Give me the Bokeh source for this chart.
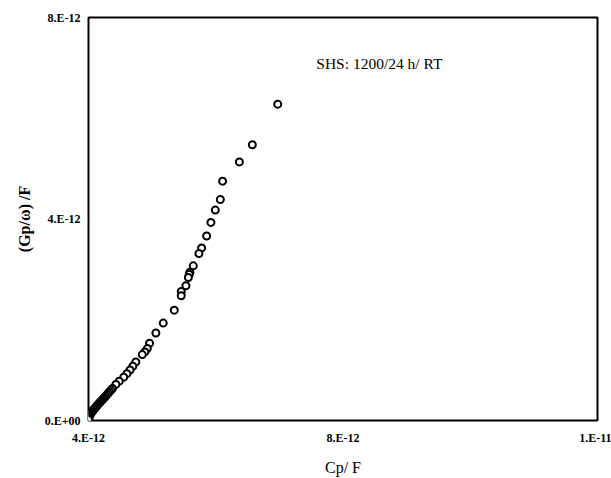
from bokeh.plotting import figure
from bokeh.models import FixedTicker, CustomJSTickFormatter, Label, Range1d, ColumnDataSource
from bokeh.embed import file_html
from bokeh.resources import INLINE
import numpy as np

# Data in units of 1e-12 F
cp_e12 = [6.974, 6.575, 6.371, 6.108, 6.072, 5.993, 5.924, 5.857, 5.778, 5.735,
          5.647, 5.594, 5.584, 5.569, 5.531, 5.458, 5.458, 5.348, 5.175, 5.059,
          4.960, 4.924, 4.886, 4.845, 4.744, 4.697, 4.653, 4.603, 4.554, 4.483,
          4.430, 4.378, 4.354, 4.330, 4.312, 4.291, 4.272, 4.252, 4.233, 4.214,
          4.197, 4.179, 4.162, 4.146, 4.131, 4.116, 4.102, 4.090, 4.077, 4.065,
          4.053, 4.042, 4.033, 4.024, 4.016, 4.009, 4.005, 4.002, 4.000]
gp_e12 = [6.280, 5.475, 5.133, 4.751, 4.387, 4.177, 3.932, 3.663, 3.426, 3.313,
          3.070, 2.943, 2.903, 2.838, 2.674, 2.561, 2.476, 2.191, 1.934, 1.737,
          1.533, 1.428, 1.361, 1.309, 1.163, 1.078, 1.003, 0.930, 0.860, 0.781,
          0.716, 0.637, 0.603, 0.574, 0.544, 0.514, 0.485, 0.459, 0.431, 0.405,
          0.382, 0.358, 0.334, 0.312, 0.291, 0.269, 0.247, 0.227, 0.208, 0.188,
          0.168, 0.148, 0.129, 0.109, 0.089, 0.069, 0.049, 0.030, 0.014]

x_ticks = [4e-12, 8e-12, 1.2e-11]
y_ticks = [0.0, 4e-12, 8e-12]
annotation = "SHS: 1200/24 h/ RT"
x_label = "Cp/ F"
y_label = "(Gp/ω) /F"

src = ColumnDataSource(dict(x=np.array(cp_e12) * 1e-12, y=np.array(gp_e12) * 1e-12))

p = figure(width=611, height=478, output_backend="svg", toolbar_location=None,
           x_range=Range1d(4e-12, 1.2e-11), y_range=Range1d(0, 8e-12),
           min_border_left=88, min_border_right=14, min_border_top=17, min_border_bottom=56)

p.scatter("x", "y", source=src, marker="circle", size=7, fill_color="white",
          line_color="black", line_width=2)

fmt = CustomJSTickFormatter(code="""
const s = tick.toExponential(0);
const parts = s.split('e');
const ev = parseInt(parts[1]);
const sign = ev < 0 ? '-' : '+';
return parts[0] + '.E' + sign + String(Math.abs(ev)).padStart(2, '0');
""")

p.xaxis.ticker = FixedTicker(ticks=x_ticks)
p.yaxis.ticker = FixedTicker(ticks=y_ticks)
for ax in (p.xaxis, p.yaxis):
    ax.formatter = fmt
    ax.major_tick_out = 0
    ax.major_tick_in = 0
    ax.minor_tick_out = 0
    ax.minor_tick_in = 0
    ax.axis_line_color = None
    ax.major_label_text_font = "Liberation Serif"
    ax.major_label_text_font_style = "bold"
    ax.major_label_text_font_size = "12px"
    ax.major_label_text_color = "black"
    ax.axis_label_text_font = "Liberation Serif"
    ax.axis_label_text_color = "black"

p.xaxis.axis_label = x_label
p.xaxis.axis_label_text_font_style = "normal"
p.xaxis.axis_label_text_font_size = "16px"
p.xaxis.major_label_standoff = 10
p.xaxis.axis_label_standoff = 11

p.yaxis.axis_label = y_label
p.yaxis.axis_label_text_font_style = "bold"
p.yaxis.axis_label_text_font_size = "16px"
p.yaxis.major_label_standoff = 8
p.yaxis.axis_label_standoff = 9

p.xgrid.visible = False
p.ygrid.visible = False
p.outline_line_color = "black"
p.outline_line_width = 2

p.add_layout(Label(x=7.58e-12, y=7.09e-12, text=annotation, text_font="Liberation Serif",
                   text_font_size="15.5px", text_baseline="middle", text_color="black"))

open("out.html", "w").write(file_html(p, INLINE))
